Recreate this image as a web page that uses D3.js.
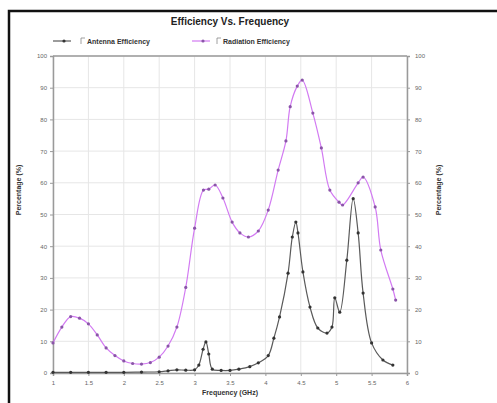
<!DOCTYPE html>
<html>
<head>
<meta charset="utf-8">
<script src="https://cdn.jsdelivr.net/npm/d3@7"></script>
<style>
  body { margin: 0; background: #fff; }
  svg { display: block; font-family: "Liberation Sans", Arial, sans-serif; }
</style>
</head>
<body>
<svg id="chart" width="497" height="403"></svg>
<script>
// Radiation efficiency (magenta)
const radFreq = [1.0, 1.125, 1.25, 1.375, 1.5, 1.625, 1.75, 1.875, 2.0, 2.125, 2.25, 2.375, 2.5, 2.625, 2.75, 2.875,
  3.0, 3.125, 3.2, 3.29, 3.4, 3.53, 3.64, 3.76, 3.9, 4.04, 4.18, 4.29, 4.35, 4.45, 4.52, 4.67, 4.79, 4.91, 5.04, 5.09,
  5.31, 5.38, 5.55, 5.63, 5.8, 5.84];
const radValues = [9.5, 14.5, 17.8, 17.3, 15.5, 12, 7.9, 5.5, 3.8, 3.0, 2.8, 3.3, 5.0, 8.5, 14.5, 27,
  45.7, 57.7, 58, 59.3, 55.2, 47.6, 44.2, 42.9, 44.8, 51.4, 64, 73.2, 84, 90.5, 92.4, 82, 71, 57.7, 53.9, 53,
  60, 61.8, 52.4, 38.8, 26.5, 23];

// Antenna efficiency (black)
const antFreq = [1.0, 1.25, 1.5, 1.75, 2.0, 2.25, 2.5, 2.625, 2.75, 2.875, 3.0, 3.06, 3.12, 3.16, 3.2, 3.25, 3.375, 3.5,
  3.625, 3.78, 3.9, 4.04, 4.12, 4.2, 4.32, 4.38, 4.43, 4.46, 4.53, 4.63, 4.74, 4.87, 4.94, 4.98, 5.05, 5.15, 5.24,
  5.31, 5.38, 5.5, 5.66, 5.8];
const antValues = [0.2, 0.2, 0.2, 0.2, 0.2, 0.3, 0.4, 0.7, 1.0, 0.9, 1.0, 2.5, 7.5, 9.8, 6, 1.2, 0.8, 0.8,
  1.2, 2.0, 3.2, 5.5, 11, 17.7, 31.5, 42.9, 47.6, 44.2, 31.9, 20.8, 14.2, 12.6, 14.5, 23.7, 19.2, 35.6, 55,
  44.2, 25.2, 9.5, 4.1, 2.5];

const xTicks = [1, 1.5, 2, 2.5, 3, 3.5, 4, 4.5, 5, 5.5, 6];
const xTickLabels = ["1", "1.5", "2", "2.5", "3", "3.5", "4", "4.5", "5", "5.5", "6"];
const yTicks = [0, 10, 20, 30, 40, 50, 60, 70, 80, 90, 100];

const svg = d3.select("#chart");
const margin = { top: 56, right: 90, bottom: 30, left: 53 };
const W = 497, H = 403;

const x = d3.scaleLinear().domain([1, 6]).range([margin.left, W - margin.right]);
const y = d3.scaleLinear().domain([0, 100]).range([H - margin.bottom, margin.top]);

// outer frame (cropped on the right and bottom)
svg.append("rect")
  .attr("x", 9).attr("y", 11).attr("width", 520).attr("height", 420)
  .attr("fill", "none").attr("stroke", "#111").attr("stroke-width", 2.5);

// grid
svg.append("g").selectAll("line").data(yTicks).enter().append("line")
  .attr("x1", x(1)).attr("x2", x(6))
  .attr("y1", d => y(d)).attr("y2", d => y(d))
  .attr("stroke", "#e6e6e6").attr("stroke-width", 1);
svg.append("g").selectAll("line").data(xTicks).enter().append("line")
  .attr("x1", d => x(d)).attr("x2", d => x(d))
  .attr("y1", y(0)).attr("y2", y(100))
  .attr("stroke", "#e6e6e6").attr("stroke-width", 1);

// axes
const axisColor = "#9a9a9a";
const styleAxis = g => {
  g.select(".domain").attr("stroke", axisColor).attr("stroke-width", 1.5);
  g.selectAll(".tick line").attr("stroke", axisColor);
  g.selectAll(".tick text").attr("fill", "#666").attr("font-size", "6px");
};

svg.append("g")
  .attr("transform", `translate(0,${y(0)})`)
  .call(d3.axisBottom(x).tickValues(xTicks).tickFormat((d, i) => xTickLabels[i]).tickSizeOuter(0).tickSize(3).tickPadding(5))
  .call(styleAxis);

svg.append("g")
  .attr("transform", `translate(${x(1)},0)`)
  .call(d3.axisLeft(y).tickValues(yTicks).tickSizeOuter(0).tickSize(3).tickPadding(3))
  .call(styleAxis);

svg.append("g")
  .attr("transform", `translate(${x(6)},0)`)
  .call(d3.axisRight(y).tickValues(yTicks).tickSizeOuter(0).tickSize(3).tickPadding(5))
  .call(styleAxis);

// top border of plot
svg.append("line")
  .attr("x1", x(1)).attr("x2", x(6)).attr("y1", y(100)).attr("y2", y(100))
  .attr("stroke", axisColor).attr("stroke-width", 1.5);

// series
const line = d3.line().x(d => x(d[0])).y(d => y(d[1])).curve(d3.curveCatmullRom.alpha(0.5));
const series = [
  { name: "Antenna Efficiency", freq: antFreq, vals: antValues, color: "#5a5a5a", mark: "#333" },
  { name: "Radiation Efficiency", freq: radFreq, vals: radValues, color: "#d27af2", mark: "#8a55a8" }
];

series.forEach(s => {
  const pts = s.freq.map((f, i) => [f, s.vals[i]]);
  svg.append("path")
    .datum(pts)
    .attr("d", line)
    .attr("fill", "none")
    .attr("stroke", s.color)
    .attr("stroke-width", 1.2);
  svg.append("g").selectAll("circle").data(pts).enter().append("circle")
    .attr("cx", d => x(d[0])).attr("cy", d => y(d[1]))
    .attr("r", 1.6)
    .attr("fill", s.mark);
});

// title
svg.append("text")
  .attr("x", 230).attr("y", 25)
  .attr("text-anchor", "middle")
  .attr("font-size", "10px").attr("font-weight", "bold").attr("fill", "#222")
  .text("Efficiency Vs. Frequency");

// legend
const legendPos = [{ x: 53, tx: 87 }, { x: 192, tx: 223 }];
series.forEach((s, i) => {
  const p = legendPos[i];
  const ly = 41;
  const g = svg.append("g");
  g.append("line").attr("x1", p.x).attr("x2", p.x + 18).attr("y1", ly).attr("y2", ly)
    .attr("stroke", s.color).attr("stroke-width", 1.2);
  g.append("circle").attr("cx", p.x + 11).attr("cy", ly).attr("r", 1.6).attr("fill", s.mark);
  g.append("path")
    .attr("d", `M${p.tx - 6},${ly + 3} V${ly - 3} H${p.tx - 2}`)
    .attr("fill", "none").attr("stroke", "#888").attr("stroke-width", 0.8);
  g.append("text").attr("x", p.tx).attr("y", ly + 2.5)
    .attr("font-size", "7px").attr("font-weight", "bold").attr("fill", "#333")
    .text(s.name);
});

// axis titles
svg.append("text")
  .attr("x", 230).attr("y", 395)
  .attr("text-anchor", "middle")
  .attr("font-size", "7px").attr("font-weight", "bold").attr("fill", "#333")
  .text("Frequency (GHz)");

svg.append("text")
  .attr("transform", `translate(21,190) rotate(-90)`)
  .attr("text-anchor", "middle")
  .attr("font-size", "7px").attr("font-weight", "bold").attr("fill", "#333")
  .text("Percentage (%)");

svg.append("text")
  .attr("transform", `translate(441,190) rotate(-90)`)
  .attr("text-anchor", "middle")
  .attr("font-size", "7px").attr("font-weight", "bold").attr("fill", "#333")
  .text("Percentage (%)");
</script>
</body>
</html>
